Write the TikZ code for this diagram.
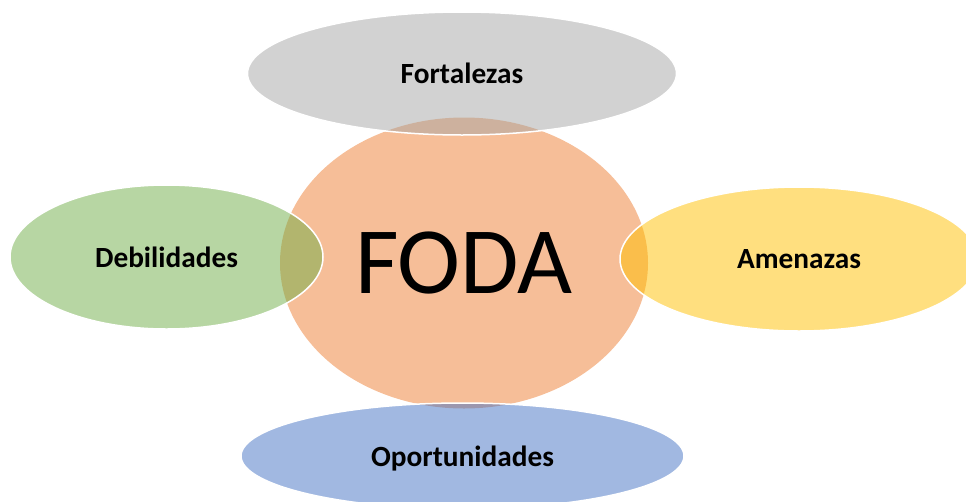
\documentclass[tikz,border=0pt]{standalone}
\usepackage{fontspec}
\setmainfont{Carlito}
\usetikzlibrary{shapes.geometric}
\definecolor{fodaorange}{HTML}{ED7D31}
\definecolor{fodagray}{HTML}{A5A5A5}
\definecolor{fodagreen}{HTML}{70AD47}
\definecolor{fodagold}{HTML}{FFC000}
\definecolor{fodablue}{HTML}{4472C4}
\begin{document}
\begin{tikzpicture}[x=1pt,y=-1pt,
  core/.style={ellipse, inner sep=0pt, fill=fodaorange, fill opacity=0.5, text opacity=1,
    font=\fontsize{95}{95}\selectfont},
  petal/.style={ellipse, inner sep=0pt, draw=white, line width=1.5pt, fill opacity=0.5,
    draw opacity=1, text opacity=1, text depth=0pt, font=\fontsize{29.3}{29.3}\selectfont\bfseries}]
\useasboundingbox (0,0) rectangle (966,501);
\clip (0,0) rectangle (966,501);
% centre
\node[core, minimum width=368pt, minimum height=291pt] (foda) at (464,263) {FODA};
% the four around it
\node[petal, fill=fodagray, minimum width=429pt, minimum height=123pt] (fort) at (462,73.5) {Fortalezas};
\node[petal, fill=fodagreen, minimum width=313pt, minimum height=144pt] (debi) at (166.5,257) {Debilidades};
\node[petal, fill=fodagold, minimum width=358pt, minimum height=144pt] (amen) at (799,259) {Amenazas};
\node[petal, fill=fodablue, minimum width=443pt, minimum height=106pt] (opor) at (462.5,456) {Oportunidades};
\end{tikzpicture}
\end{document}
